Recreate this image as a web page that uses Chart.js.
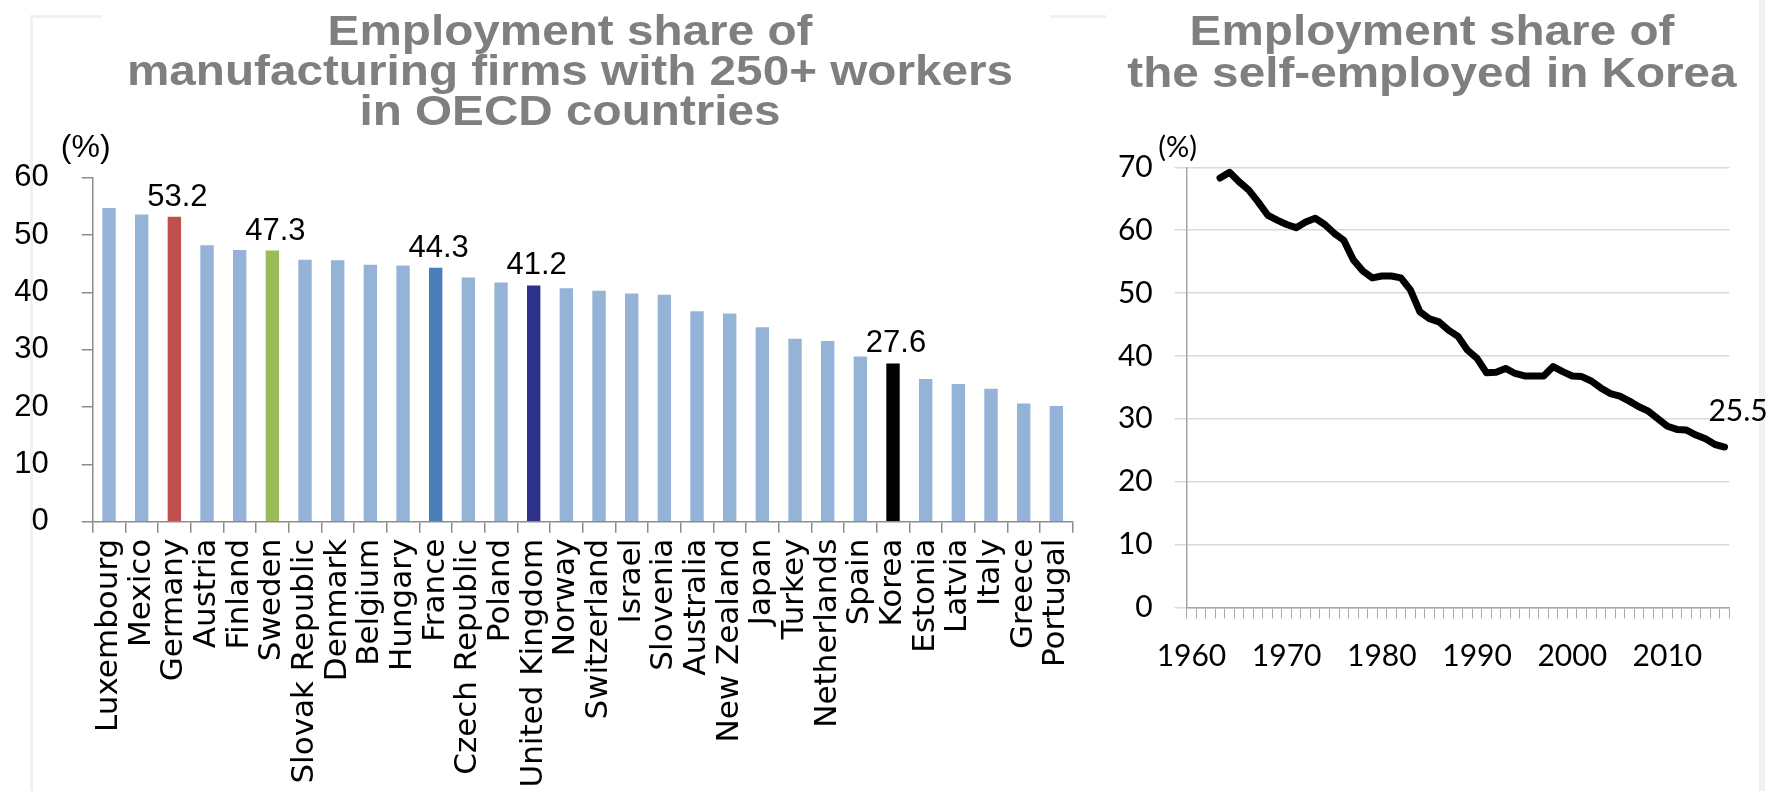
<!DOCTYPE html>
<html>
<head>
<meta charset="utf-8">
<title>Employment share charts</title>
<script src="https://cdn.jsdelivr.net/npm/chart.js@4.4.1/dist/chart.umd.min.js"></script>
<style>
  html, body { margin: 0; padding: 0; background: #ffffff; }
  body { width: 1785px; height: 791px; position: relative; overflow: hidden; }
  .panel { position: absolute; top: 0; }
  .frame { position: absolute; background: #f1f1f1; }
</style>
</head>
<body>
<div class="frame" style="left:30px; top:15px; width:3px; height:776px;"></div>
<div class="frame" style="left:30px; top:15px; width:72px; height:3px;"></div>
<div class="frame" style="left:1050px; top:15px; width:56px; height:3px;"></div>
<div class="frame" style="left:1759px; top:0px; width:6px; height:791px;"></div>
<div class="panel" style="left:0; width:1100px; height:791px;"><canvas id="barChart" width="1100" height="791"></canvas></div>
<div class="panel" style="left:1100px; width:685px; height:791px;"><canvas id="lineChart" width="685" height="791"></canvas></div>
<script>
// ---- Manufacturing firms with 250+ workers: share of employment (%) ----
const countries = [
  'Luxembourg', 'Mexico', 'Germany', 'Austria', 'Finland', 'Sweden',
  'Slovak Republic', 'Denmark', 'Belgium', 'Hungary', 'France',
  'Czech Republic', 'Poland', 'United Kingdom', 'Norway', 'Switzerland',
  'Israel', 'Slovenia', 'Australia', 'New Zealand', 'Japan', 'Turkey',
  'Netherlands', 'Spain', 'Korea', 'Estonia', 'Latvia', 'Italy',
  'Greece', 'Portugal'
];
const largeFirmShare = [
  54.7, 53.6, 53.2, 48.2, 47.4, 47.3,
  45.7, 45.6, 44.8, 44.7, 44.3,
  42.6, 41.7, 41.2, 40.7, 40.3,
  39.8, 39.6, 36.7, 36.3, 33.9, 31.9,
  31.5, 28.8, 27.6, 24.9, 24.0, 23.2,
  20.6, 20.2
];
const labelledCountries = ['Germany', 'Sweden', 'France', 'United Kingdom', 'Korea'];
const barTicks = [0, 10, 20, 30, 40, 50, 60];

// ---- Self-employed share of total employment in Korea (%) ----
const years = [
  1960, 1961, 1962, 1963, 1964, 1965, 1966, 1967, 1968, 1969,
  1970, 1971, 1972, 1973, 1974, 1975, 1976, 1977, 1978, 1979,
  1980, 1981, 1982, 1983, 1984, 1985, 1986, 1987, 1988, 1989,
  1990, 1991, 1992, 1993, 1994, 1995, 1996, 1997, 1998, 1999,
  2000, 2001, 2002, 2003, 2004, 2005, 2006, 2007, 2008, 2009,
  2010, 2011, 2012, 2013, 2014, 2015, 2016
];
const selfEmployedShare = [
  null, null, null, 68.3, 69.2, 67.7, 66.4, 64.5, 62.4, 61.6,
  60.9, 60.4, 61.3, 61.9, 60.9, 59.5, 58.4, 55.3, 53.5, 52.4,
  52.7, 52.7, 52.4, 50.5, 47.0, 45.9, 45.4, 44.1, 43.1, 40.9,
  39.6, 37.3, 37.4, 38.0, 37.2, 36.8, 36.8, 36.8, 38.3, 37.5,
  36.8, 36.7, 36.0, 34.9, 34.0, 33.6, 32.8, 31.9, 31.2, 30.0,
  28.8, 28.3, 28.2, 27.4, 26.8, 25.9, 25.5
];
const yearLabelTicks = [1960, 1970, 1980, 1990, 2000, 2010];
const lineTicks = [0, 10, 20, 30, 40, 50, 60, 70];

// ---- styling ----
const BAR_BASE = '#95b3d7';
const BAR_HIGHLIGHT = {
  'Germany': '#c0504d',
  'Sweden': '#9bbb59',
  'France': '#4a7ebb',
  'United Kingdom': '#2e3189',
  'Korea': '#000000'
};
const AXIS_GRAY = '#8c8c8c';
const GRID_GRAY = '#d9d9d9';
const TITLE_GRAY = '#7f7f7f';
const ARIAL = '"Liberation Sans", Arial, sans-serif';
const VERDANA = '"DejaVu Sans", Verdana, sans-serif';
const CALIBRI = 'Lato, "Open Sans", sans-serif';

function drawTitle(chart, lines, cx, baselines) {
  const ctx = chart.ctx;
  ctx.save();
  ctx.fillStyle = TITLE_GRAY;
  ctx.font = 'bold 42px ' + ARIAL;
  ctx.textAlign = 'center';
  ctx.textBaseline = 'alphabetic';
  lines.forEach((text, i) => {
    ctx.save();
    ctx.translate(cx, baselines[i]);
    ctx.scale(1.135, 1);
    ctx.fillText(text, 0, 0);
    ctx.restore();
  });
  ctx.restore();
}

function drawUnit(chart, font, dx, dy) {
  const ctx = chart.ctx;
  const area = chart.chartArea;
  ctx.save();
  ctx.fillStyle = '#000';
  ctx.font = font;
  ctx.textAlign = 'center';
  ctx.textBaseline = 'middle';
  ctx.fillText('(%)', area.left + dx, area.top + dy);
  ctx.restore();
}

const barDecor = {
  id: 'barDecor',
  afterDraw(chart) {
    drawTitle(chart, ['Employment share of', 'manufacturing firms with 250+ workers', 'in OECD countries'], 570, [45, 85, 125]);
    drawUnit(chart, '32px ' + ARIAL, -7, -30);
    const ctx = chart.ctx;
    const meta = chart.getDatasetMeta(0);
    ctx.save();
    ctx.fillStyle = '#000';
    ctx.font = '31px ' + ARIAL;
    ctx.textAlign = 'center';
    ctx.textBaseline = 'alphabetic';
    countries.forEach((c, i) => {
      if (!labelledCountries.includes(c)) return;
      const bar = meta.data[i];
      ctx.fillText(largeFirmShare[i].toFixed(1), bar.x + 3, bar.y - 11);
    });
    ctx.restore();
  }
};

const lineDecor = {
  id: 'lineDecor',
  afterDraw(chart) {
    drawTitle(chart, ['Employment share of', 'the self-employed in Korea'], 332, [45, 87]);
    drawUnit(chart, '29px ' + CALIBRI, -9, -20);
    const ctx = chart.ctx;
    const meta = chart.getDatasetMeta(0);
    const last = selfEmployedShare.length - 1;
    const pt = meta.data[last];
    ctx.save();
    ctx.fillStyle = '#000';
    ctx.font = '30px ' + CALIBRI;
    ctx.textAlign = 'center';
    ctx.textBaseline = 'middle';
    ctx.fillText(selfEmployedShare[last].toFixed(1), pt.x + 13.5, pt.y - 36);
    ctx.restore();
  }
};

function buildCharts() {
  new Chart(document.getElementById('barChart'), {
    type: 'bar',
    data: {
      labels: countries,
      datasets: [{
        data: largeFirmShare,
        backgroundColor: countries.map(c => BAR_HIGHLIGHT[c] || BAR_BASE),
        borderWidth: 0,
        barPercentage: 0.41,
        categoryPercentage: 1.0
      }]
    },
    options: {
      responsive: false,
      animation: false,
      devicePixelRatio: 1,
      layout: { padding: { top: 177.7, right: 26.7, bottom: 0, left: 0 } },
      plugins: { legend: { display: false }, tooltip: { enabled: false }, title: { display: false } },
      scales: {
        x: {
          offset: true,
          grid: { display: true, offset: true, drawOnChartArea: false, drawTicks: true, tickLength: 11, color: AXIS_GRAY, lineWidth: 1.5 },
          border: { display: true, color: AXIS_GRAY, width: 1.5 },
          ticks: { autoSkip: false, maxRotation: 90, minRotation: 90, padding: 6, color: '#000', font: { family: VERDANA, size: 31 } },
          afterFit: s => { s.height = 269.3; }
        },
        y: {
          min: barTicks[0],
          max: barTicks[barTicks.length - 1],
          afterBuildTicks: s => { s.ticks = barTicks.map(v => ({ value: v })); },
          grid: { display: true, drawOnChartArea: false, drawTicks: true, tickLength: 11, color: AXIS_GRAY, lineWidth: 1.5 },
          border: { display: true, color: AXIS_GRAY, width: 1.5 },
          ticks: { padding: 33, color: '#000', font: { family: ARIAL, size: 31 } },
          afterFit: s => { s.width = 92.7; }
        }
      }
    },
    plugins: [barDecor]
  });

  new Chart(document.getElementById('lineChart'), {
    type: 'line',
    data: {
      labels: years,
      datasets: [{
        data: selfEmployedShare,
        borderColor: '#000000',
        borderWidth: 7,
        borderCapStyle: 'round',
        borderJoinStyle: 'round',
        pointRadius: 0,
        tension: 0,
        fill: false
      }]
    },
    options: {
      responsive: false,
      animation: false,
      devicePixelRatio: 1,
      layout: { padding: { top: 167.3, right: 55.7, bottom: 0, left: 0 } },
      plugins: { legend: { display: false }, tooltip: { enabled: false }, title: { display: false } },
      scales: {
        x: {
          offset: true,
          grid: { display: true, offset: true, drawOnChartArea: false, drawTicks: true, tickLength: 11, color: '#a6a6a6', lineWidth: 1 },
          border: { display: true, color: '#a6a6a6', width: 1.5 },
          ticks: {
            autoSkip: false, maxRotation: 0, minRotation: 0, padding: 20, color: '#000',
            font: { family: CALIBRI, size: 30 },
            callback: (v, i) => (yearLabelTicks.includes(years[i]) ? String(years[i]) : '')
          },
          afterFit: s => { s.height = 183.7; }
        },
        y: {
          min: lineTicks[0],
          max: lineTicks[lineTicks.length - 1],
          afterBuildTicks: s => { s.ticks = lineTicks.map(v => ({ value: v })); },
          grid: { display: true, drawOnChartArea: true, drawTicks: true, tickLength: 12, color: GRID_GRAY, lineWidth: 1.5 },
          border: { display: true, color: '#a6a6a6', width: 1.5 },
          ticks: { padding: 22, color: '#000', font: { family: CALIBRI, size: 30 } },
          afterFit: s => { s.width = 86.7; }
        }
      }
    },
    plugins: [lineDecor]
  });
}

const fontLoads = [
  'bold 42px "Liberation Sans"', '31px "Liberation Sans"', '31px "DejaVu Sans"', '30px Lato'
].map(f => document.fonts.load(f).catch(() => null));
Promise.all(fontLoads).then(buildCharts, buildCharts);
</script>
</body>
</html>
